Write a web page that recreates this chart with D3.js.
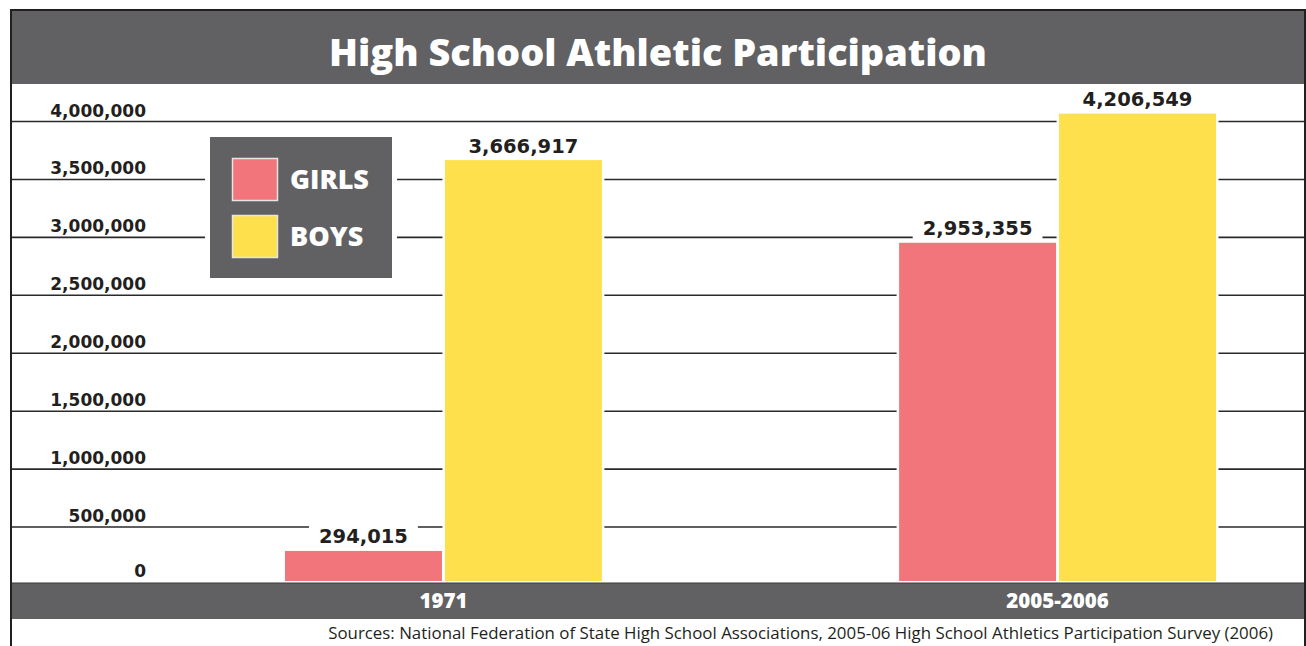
<!DOCTYPE html>
<html>
<head>
<meta charset="utf-8">
<script src="https://cdn.jsdelivr.net/npm/d3@7"></script>
<style>
  html, body { margin: 0; padding: 0; background: #fff; }
  svg { display: block; }
</style>
</head>
<body>
<svg id="chart" width="1306" height="646"></svg>
<script>
// ---- data ----
const title = "High School Athletic Participation";
const categories = ["1971", "2005-2006"];
const seriesNames = ["GIRLS", "BOYS"];
const girls = [294015, 2953355];
const boys = [3666917, 4206549];
const yTickValues = [0, 500000, 1000000, 1500000, 2000000, 2500000, 3000000, 3500000, 4000000];
const yTickLabels = ["0", "500,000", "1,000,000", "1,500,000", "2,000,000", "2,500,000", "3,000,000", "3,500,000", "4,000,000"];
const sourceText = "Sources: National Federation of State High School Associations, 2005-06 High School Athletics Participation Survey (2006)";

// ---- style ----
const colors = { GIRLS: "#f1757a", BOYS: "#fee04d" };
const gray = "#616163";
const ink = "#231f20";
const numFont = "'DejaVu Sans', sans-serif";
const txtFont = "'Open Sans', 'Noto Sans', sans-serif";

const svg = d3.select("#chart");

// frame geometry
const frameL = 11, frameR = 1305, frameT = 10;
const titleBottom = 84;
const bandTop = 583, bandBottom = 619;

// scales
const y = d3.scaleLinear()
  .domain([0, 4000000, 4500000])
  .range([585, 121.5, 102.4]);

const x0 = d3.scaleBand()
  .domain(categories)
  .range([285, 1216])
  .paddingInner(0.484)
  .paddingOuter(0);

const x1 = d3.scaleBand()
  .domain(seriesNames)
  .range([0, x0.bandwidth()])
  .paddingInner(0.01875)
  .paddingOuter(0);

const rows = categories.map((c, i) => ({
  category: c,
  values: [
    { key: "GIRLS", value: girls[i] },
    { key: "BOYS", value: boys[i] }
  ]
}));

// title band
svg.append("rect")
  .attr("x", frameL).attr("y", frameT)
  .attr("width", frameR - frameL).attr("height", titleBottom - frameT)
  .attr("fill", gray);

function fitText(sel, targetWidth, baseSize) {
  sel.attr("font-size", baseSize);
  const w = sel.node().getComputedTextLength();
  sel.attr("font-size", baseSize * targetWidth / w);
}

const titleText = svg.append("text")
  .attr("x", (frameL + frameR) / 2)
  .attr("y", 66)
  .attr("text-anchor", "middle")
  .attr("font-family", txtFont)
  .attr("font-weight", 800)
  .attr("fill", "#fff")
  .text(title);
fitText(titleText, 658, 39);

// gridlines
const grid = svg.append("g");
grid.selectAll("line")
  .data(yTickValues.filter(v => v > 0))
  .join("line")
  .attr("x1", frameL).attr("x2", frameR)
  .attr("y1", d => y(d)).attr("y2", d => y(d))
  .attr("stroke", "#2a2a2a")
  .attr("stroke-width", 1.6);

// y tick labels
svg.append("g").selectAll("text")
  .data(yTickValues)
  .join("text")
  .attr("x", 146)
  .attr("y", (d, i) => i === 0 ? 577 : y(d) - 5)
  .attr("text-anchor", "end")
  .attr("font-family", numFont)
  .attr("font-weight", 700)
  .attr("font-size", 17)
  .attr("fill", ink)
  .text((d, i) => yTickLabels[i]);

// legend (white knockout + box)
const lg = { x: 210, y: 137, w: 182, h: 141 };
svg.append("rect")
  .attr("x", lg.x - 5).attr("y", lg.y - 5)
  .attr("width", lg.w + 10).attr("height", lg.h + 10)
  .attr("fill", "#fff");
svg.append("rect")
  .attr("x", lg.x).attr("y", lg.y)
  .attr("width", lg.w).attr("height", lg.h)
  .attr("fill", gray);
const legendItems = svg.append("g").selectAll("g")
  .data(seriesNames)
  .join("g")
  .attr("transform", (d, i) => `translate(${lg.x + 22.5},${lg.y + 21.5 + i * 57})`);
legendItems.append("rect")
  .attr("width", 45).attr("height", 42)
  .attr("fill", d => colors[d])
  .attr("stroke", "#e6e6e6")
  .attr("stroke-width", 1.5);
legendItems.append("text")
  .attr("x", 57.5)
  .attr("y", 30)
  .attr("font-family", txtFont)
  .attr("font-weight", 800)
  .attr("font-size", 27)
  .attr("fill", "#fff")
  .text(d => d);

// bars
const groups = svg.append("g").selectAll("g")
  .data(rows)
  .join("g")
  .attr("transform", d => `translate(${x0(d.category)},0)`);

// white knockouts around bars
groups.selectAll("rect.ko")
  .data(d => d.values)
  .join("rect")
  .attr("class", "ko")
  .attr("x", d => x1(d.key) - 2.5)
  .attr("y", d => y(d.value) - 2)
  .attr("width", x1.bandwidth() + 5)
  .attr("height", d => bandTop - y(d.value) + 2)
  .attr("fill", "#fff");

groups.selectAll("rect.bar")
  .data(d => d.values)
  .join("rect")
  .attr("class", "bar")
  .attr("x", d => x1(d.key))
  .attr("y", d => y(d.value))
  .attr("width", x1.bandwidth())
  .attr("height", d => bandTop - 2 - y(d.value))
  .attr("fill", d => colors[d.key]);

// value labels with knockout
const fmt = d3.format(",");
const labelG = groups.selectAll("g.lbl")
  .data(d => d.values)
  .join("g")
  .attr("class", "lbl");
const labelKo = labelG.append("rect").attr("fill", "#fff");
const labelText = labelG.append("text")
  .attr("x", d => x1(d.key) + x1.bandwidth() / 2)
  .attr("y", d => y(d.value) - 7.5)
  .attr("text-anchor", "middle")
  .attr("font-family", numFont)
  .attr("font-weight", 700)
  .attr("font-size", 19.5)
  .attr("fill", ink)
  .text(d => fmt(d.value));
labelText.each(function () {
  const b = this.getBBox();
  d3.select(this.parentNode).select("rect")
    .attr("x", b.x - 10).attr("y", b.y)
    .attr("width", b.width + 20).attr("height", b.height);
});

// bottom category band
svg.append("rect")
  .attr("x", frameL).attr("y", bandTop)
  .attr("width", frameR - frameL).attr("height", bandBottom - bandTop)
  .attr("fill", gray);
svg.append("line")
  .attr("x1", frameL).attr("x2", frameR)
  .attr("y1", bandTop).attr("y2", bandTop)
  .attr("stroke", "#3a3a3a").attr("stroke-width", 1);

svg.append("g").selectAll("text")
  .data(categories)
  .join("text")
  .attr("x", d => x0(d) + x0.bandwidth() / 2)
  .attr("y", 607.5)
  .attr("text-anchor", "middle")
  .attr("font-family", txtFont)
  .attr("font-weight", 800)
  .attr("font-size", 20.5)
  .attr("fill", "#fff")
  .text(d => d);

// sources
const src = svg.append("text")
  .attr("x", 1273)
  .attr("y", 639)
  .attr("text-anchor", "end")
  .attr("font-family", txtFont)
  .attr("font-size", 15)
  .attr("fill", ink)
  .text(sourceText);
fitText(src, 945, 15);

// frame
svg.append("rect")
  .attr("x", frameL).attr("y", frameT)
  .attr("width", frameR - frameL).attr("height", 700)
  .attr("fill", "none")
  .attr("stroke", ink)
  .attr("stroke-width", 2);
</script>
</body>
</html>
